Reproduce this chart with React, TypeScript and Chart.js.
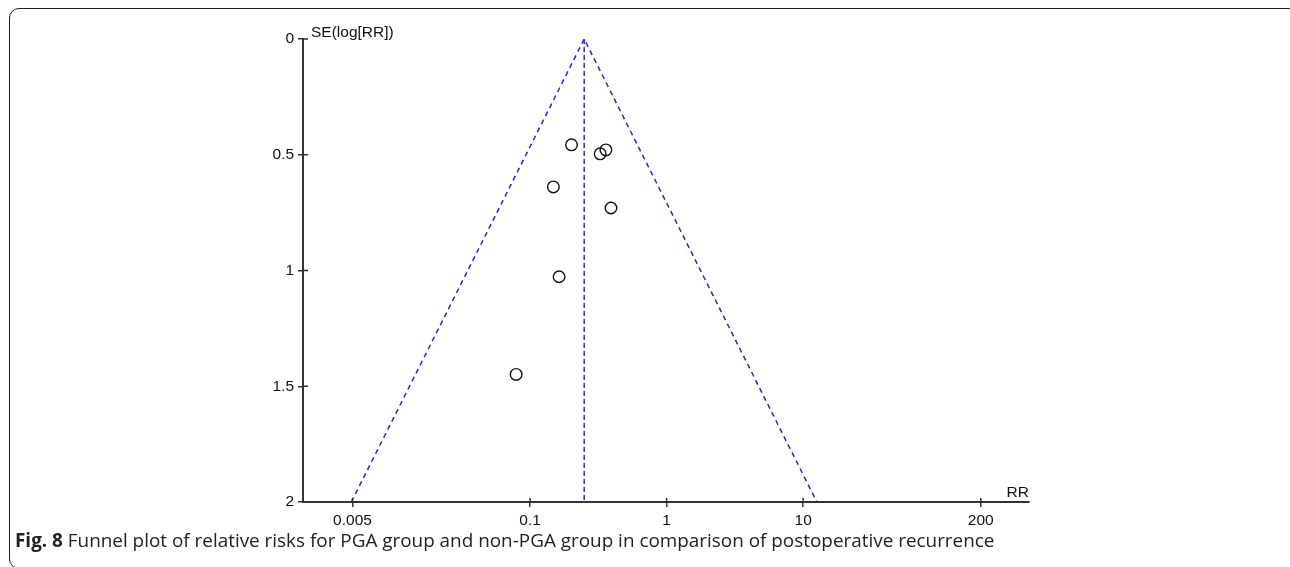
import React, { useEffect, useRef } from "react";
import { Chart, registerables } from "chart.js";

Chart.register(...registerables);

// Study points (relative risk, standard error of log RR)
const STUDY_RR = [0.201, 0.326, 0.359, 0.148, 0.391, 0.163, 0.079];
const STUDY_SE = [0.457, 0.496, 0.479, 0.639, 0.73, 1.027, 1.449];

// Funnel (pseudo 95% CI) lines
const FUNNEL_RR = [0.0049, 0.249, 12.6];
const FUNNEL_SE = [2, 0, 2];

// Pooled estimate vertical line
const POOLED_RR = [0.249, 0.249];
const POOLED_SE = [0, 2];

// Axis ticks
const X_TICKS = [0.005, 0.1, 1, 10, 200];
const X_TICK_LABELS = ["0.005", "0.1", "1", "10", "200"];
const Y_TICKS = [0, 0.5, 1, 1.5, 2];
const Y_TICK_LABELS = ["0", "0.5", "1", "1.5", "2"];

const X_MIN = 0.00217;
const X_MAX = 451;

const FONT = "'Liberation Sans', Arial, sans-serif";
const AXIS_COLOR = "#333";
const BLUE = "rgb(35,35,215)";

export default function App() {
  const canvasRef = useRef<HTMLCanvasElement | null>(null);

  useEffect(() => {
    document.body.style.margin = "0";
    const canvas = canvasRef.current;
    if (!canvas) return;

    const extras = {
      id: "extras",
      afterDraw(chart: any) {
        const { ctx, chartArea, scales } = chart;
        const xs = scales.x;
        const ys = scales.y;
        ctx.save();
        ctx.strokeStyle = AXIS_COLOR;
        ctx.lineWidth = 1.5;
        // inward parts of tick marks
        ctx.beginPath();
        for (const v of Y_TICKS) {
          const py = ys.getPixelForValue(v);
          ctx.moveTo(chartArea.left, py);
          ctx.lineTo(chartArea.left + 5, py);
        }
        for (const v of X_TICKS) {
          const px = xs.getPixelForValue(v);
          ctx.moveTo(px, chartArea.bottom);
          ctx.lineTo(px, chartArea.bottom - 4);
        }
        ctx.stroke();
        ctx.fillStyle = "#111";
        ctx.font = `15.5px ${FONT}`;
        ctx.textBaseline = "alphabetic";
        ctx.textAlign = "left";
        ctx.fillText("SE(log[RR])", chartArea.left + 8, chartArea.top - 2);
        ctx.textAlign = "right";
        ctx.fillText("RR", chartArea.right, chartArea.bottom - 5);
        ctx.restore();
      },
    };

    const chart = new Chart(canvas, {
      type: "scatter",
      data: {
        datasets: [
          {
            label: "funnel",
            data: FUNNEL_RR.map((x, i) => ({ x, y: FUNNEL_SE[i] })),
            showLine: true,
            borderColor: BLUE,
            borderWidth: 1.5,
            borderDash: [5, 4],
            pointRadius: 0,
            fill: false,
            order: 2,
          },
          {
            label: "pooled",
            data: POOLED_RR.map((x, i) => ({ x, y: POOLED_SE[i] })),
            showLine: true,
            borderColor: BLUE,
            borderWidth: 1.5,
            borderDash: [5, 3],
            pointRadius: 0,
            fill: false,
            order: 2,
          },
          {
            label: "studies",
            data: STUDY_RR.map((x, i) => ({ x, y: STUDY_SE[i] })),
            pointStyle: "circle",
            pointRadius: 5.8,
            pointBorderColor: "#111",
            pointBackgroundColor: "rgba(0,0,0,0)",
            pointBorderWidth: 1.4,
            order: 1,
          },
        ],
      },
      options: {
        responsive: false,
        devicePixelRatio: 1,
        animation: false,
        layout: { padding: { left: 0, top: 39, right: 261, bottom: 0 } },
        plugins: {
          legend: { display: false },
          tooltip: { enabled: false },
        },
        scales: {
          x: {
            type: "logarithmic",
            min: X_MIN,
            max: X_MAX,
            afterBuildTicks: (s: any) => {
              s.ticks = X_TICKS.map((v) => ({ value: v }));
            },
            afterFit: (s: any) => {
              s.height = 65;
            },
            ticks: {
              autoSkip: false,
              maxRotation: 0,
              padding: 4,
              color: "#111",
              font: { family: FONT, size: 15.5 },
              callback: (v: any) => {
                const i = X_TICKS.indexOf(Number(v));
                return i >= 0 ? X_TICK_LABELS[i] : "";
              },
            },
            grid: {
              display: true,
              drawOnChartArea: false,
              drawTicks: true,
              tickLength: 5,
              color: AXIS_COLOR,
              lineWidth: 1.5,
            },
            border: { display: true, color: AXIS_COLOR, width: 2 },
          },
          y: {
            type: "linear",
            min: 0,
            max: 2,
            reverse: true,
            afterBuildTicks: (s: any) => {
              s.ticks = Y_TICKS.map((v) => ({ value: v }));
            },
            afterFit: (s: any) => {
              s.width = 303;
            },
            ticks: {
              autoSkip: false,
              padding: 4,
              color: "#111",
              font: { family: FONT, size: 15.5 },
              callback: (v: any) => {
                const i = Y_TICKS.indexOf(Number(v));
                return i >= 0 ? Y_TICK_LABELS[i] : "";
              },
            },
            grid: {
              display: true,
              drawOnChartArea: false,
              drawTicks: true,
              tickLength: 5,
              color: AXIS_COLOR,
              lineWidth: 1.5,
            },
            border: { display: true, color: AXIS_COLOR, width: 2 },
          },
        },
      },
      plugins: [extras],
    });

    return () => chart.destroy();
  }, []);

  return (
    <div style={{ position: "absolute", left: 0, top: 0, width: 1290, height: 567, overflow: "hidden", background: "#fff" }}>
      <div
        style={{
          position: "absolute",
          left: 9,
          top: 8,
          width: 1290,
          height: 561,
          boxSizing: "border-box",
          border: "1.5px solid #1e1e1e",
          borderRadius: 10,
        }}
      />
      <canvas ref={canvasRef} width={1290} height={567} style={{ position: "absolute", left: 0, top: 0, width: 1290, height: 567 }} />
      <div
        style={{
          position: "absolute",
          left: 15,
          top: 529,
          whiteSpace: "nowrap",
          fontFamily: "'Open Sans', 'Noto Sans', sans-serif",
          fontSize: 18.9,
          lineHeight: "22px",
          color: "#222",
        }}
      >
        <b>Fig. 8</b> Funnel plot of relative risks for PGA group and non-PGA group in comparison of postoperative recurrence
      </div>
    </div>
  );
}
